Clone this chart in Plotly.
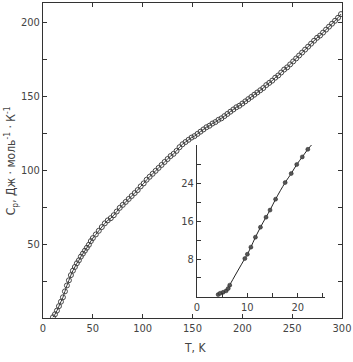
import plotly.graph_objects as go

# Main curve: temperature (K) and heat capacity
T_main = [10,12,14,16,18,20,22,24,26,28,30,32,34,36,38,40,42,44,46,48,50,53,56,59,62,65,68,71,74,77,80,83,86,89,92,95,98,101,104,107,110,113,116,119,122,125,128,131,134,137,140,143,146,149,152,155,158,161,164,167,170,173,176,179,182,185,188,191,194,197,200,203,206,209,212,215,218,221,224,227,230,233,236,239,242,245,248,251,254,257,260,263,266,269,272,275,278,281,284,287,290,293,296,299]
Cp_main = [0.5,2.5,5,8,11,14,18,22,25.5,29,32,34.5,37,39,41.5,43.5,45.5,47.5,49.5,52,54,56.5,59,61.5,64,66,67.5,69.5,72,74.5,76.5,78.5,80.5,82.5,84.5,86.5,89,91,93.5,95.5,97.5,99.5,101.5,103.5,105.5,107.5,109.5,111,113,115.5,117.5,119,120.5,122,123,124.5,126,127.5,129,130,131.5,132.5,134,135,136.5,138,139.5,141,142.5,143.5,145,146.5,148,149.5,151,152.5,154,155.5,157.5,159,160.5,162.5,164,166,168,169.5,171.5,173.5,175.5,177.5,179.5,181.5,183.5,185.5,187.5,189.5,191,193,195,197,199,201,203,205.5]

# Inset: low-temperature region
T_ins = [4.2,4.6,5.2,5.8,6.2,6.5,9.5,10.0,10.7,11.6,12.6,13.7,14.5,15.6,17.5,18.7,19.8,20.9,22.0,23.3]
Cp_ins = [0.5,0.8,1.0,1.3,1.8,2.5,8.1,9.0,10.5,12.6,14.7,16.8,18.3,20.6,24.1,26.0,27.9,29.5,31.1,32.7]

main_xticks = [0,50,100,150,200,250,300]
main_yticks = [0,25,50,75,100,125,150,175,200]
main_ylabels = ['', '', '50', '', '100', '', '150', '', '200']
ins_xticks = [0,5,10,15,20,25]
ins_xlabels = ['0','','10','','20','']
ins_yticks = [0,4,8,12,16,20,24,28]
ins_ylabels = ['','','8','','16','','24','']

axis_col = '#333333'
font_col = '#444444'
family = 'DejaVu Sans Condensed, DejaVu Sans, sans-serif'
fnt = dict(family=family, size=11, color=font_col)
title_fnt = dict(family=family, size=12, color=font_col)

fig = go.Figure()
fig.add_trace(go.Scatter(
    x=T_main, y=Cp_main, mode='lines+markers', line=dict(color='#333', width=1, shape='spline'),
    marker=dict(symbol='circle-open', size=5, color='#444', line=dict(width=1)),
    xaxis='x', yaxis='y', showlegend=False))
fig.add_trace(go.Scatter(
    x=T_ins, y=Cp_ins, mode='lines+markers', line=dict(color='#222', width=1, shape='spline'),
    marker=dict(symbol='circle', size=4, color='#555', line=dict(width=0.5, color='#222')),
    xaxis='x2', yaxis='y2', showlegend=False, cliponaxis=False))

fig.update_layout(
    width=353, height=362,
    margin=dict(l=43, r=11, t=3, b=44),
    paper_bgcolor='white', plot_bgcolor='white',
    font=fnt,
    xaxis=dict(domain=[0,1], range=[0,300], tickvals=main_xticks, ticks='inside', ticklen=4,
               tickcolor=axis_col, showline=True, linecolor=axis_col, linewidth=1, mirror='ticks',
               showgrid=False, zeroline=False, tickfont=fnt),
    yaxis=dict(domain=[0,1], range=[0,213], tickvals=main_yticks, ticktext=main_ylabels,
               ticks='inside', ticklen=4, tickcolor=axis_col, showline=True, linecolor=axis_col,
               linewidth=1, mirror='ticks', showgrid=False, zeroline=False, tickfont=fnt),
    xaxis2=dict(domain=[0.515,0.943], range=[0,25.4], anchor='y2', tickvals=ins_xticks,
                ticktext=ins_xlabels, ticks='inside', ticklen=4, tickcolor=axis_col,
                showline=True, linecolor=axis_col, linewidth=1, showgrid=False, zeroline=False,
                tickfont=fnt),
    yaxis2=dict(domain=[0.0667,0.549], range=[0,32], anchor='x2', tickvals=ins_yticks,
                ticktext=ins_ylabels, ticks='inside', ticklen=4, tickcolor=axis_col,
                showline=True, linecolor=axis_col, linewidth=1, showgrid=False, zeroline=False,
                tickfont=fnt),
    annotations=[
        dict(text='T, K', xref='paper', yref='paper', x=0.51, y=-0.068, showarrow=False,
             xanchor='center', yanchor='top', font=title_fnt),
        dict(text='C<sub>p</sub>, Дж · моль<sup>-1</sup> · К<sup>-1</sup>', xref='paper', yref='paper',
             x=-0.108, y=0.5, showarrow=False, textangle=-90, xanchor='center', yanchor='middle',
             font=title_fnt),
    ],
)

fig.write_html('out.html')
